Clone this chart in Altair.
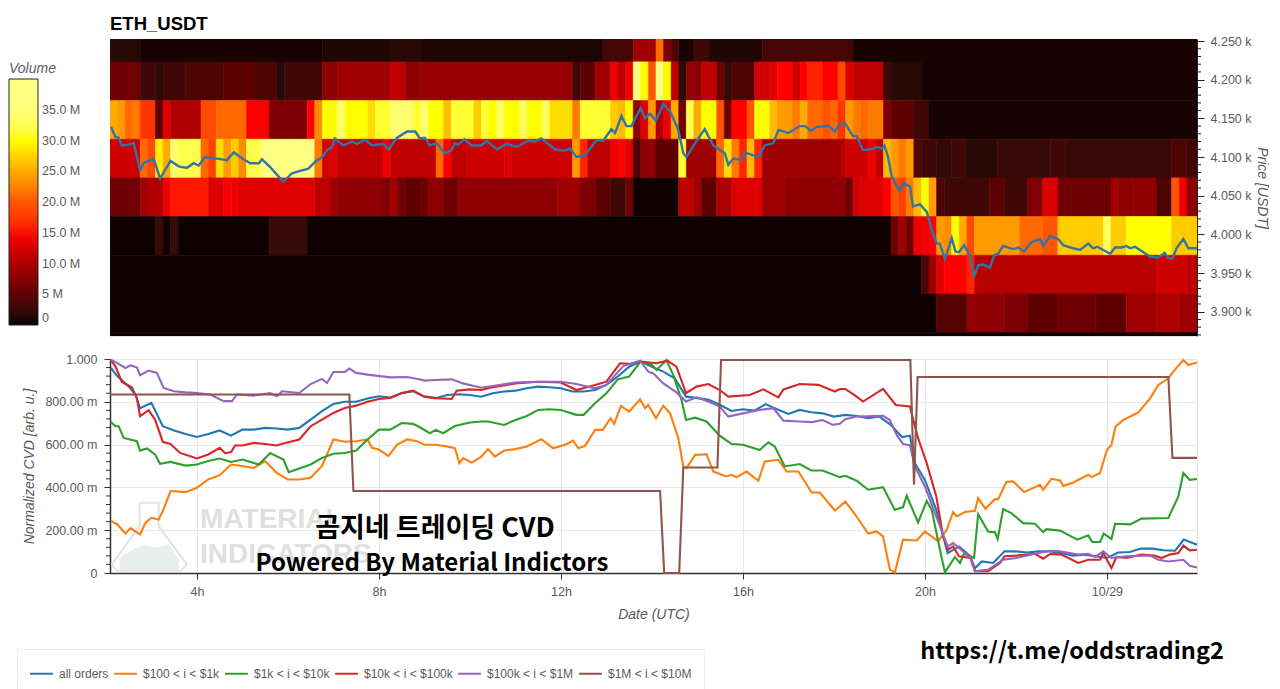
import altair as alt
import pandas as pd

FONT = "Liberation Sans"
GREY = "#5a5a5a"
X_DOMAIN = [2.09, 25.98]
PRICE_DOMAIN = [3868.6, 4252.6]
COLS = 143
COL_HOURS = 1 / 6

# Heat-map rows: (price low, price high, [(first column, volume in millions), ...])
ROW0 = [(0, 1.5), (4, .5), (28, 1), (37, 1.5), (41, .9), (65, 3.5), (69, 9), (72, 21), (73, 7), (74, 4), (75, .6), (77, 3), (79, 1), (86, 3.5), (98, .5)]
ROW1 = [(0, 6), (4, 3), (6, 2), (7, 3), (10, 4), (15, 5), (19, 4), (22, 1.5), (23, 3), (28, 8), (30, 9), (37, 11), (39, 8), (41, 8.5), (61, 3), (62, 5), (64, 9), (66, 14), (67, 11), (68, 14), (69, 36), (70, 30), (71, 20), (72, 40), (73, 30), (74, 11), (75, 2), (76, 8), (78, 11), (80, 6), (81, 2), (82, 4), (85, 12), (87, 13), (88, 15), (90, 12), (91, 15), (92, 16), (94, 15), (96, 19), (97, 13), (98, 11), (102, 3), (103, 1.5), (107, .5)]
ROW2 = [(0, 25), (1, 24), (2, 21), (3, 22), (4, 17), (6, 5), (7, 13), (8, 10), (12, 19), (14, 21), (18, 15), (21, 7), (26, 15), (27, 23), (28, 30), (30, 34), (31, 30), (34, 28), (35, 31), (37, 34), (40, 31), (41, 34), (42, 30), (44, 26), (45, 31), (48, 27), (49, 31), (50, 30), (51, 33), (52, 30), (54, 33), (55, 30), (57, 33), (58, 28), (61, 22), (62, 31), (66, 27), (67, 26), (68, 30), (69, 8), (70, 13), (71, 24), (72, 10), (73, 14), (74, 25), (75, 6), (76, 32), (77, 25), (78, 30), (80, 20), (81, 6), (82, 15), (84, 20), (85, 30), (87, 26), (88, 24), (90, 22), (91, 25), (92, 21), (94, 20), (95, 21), (96, 17), (97, 24), (98, 22), (99, 21), (100, 22), (102, 7), (103, 5), (106, 3), (108, .5)]
ROW3 = [(0, 12), (4, 21), (5, 19), (6, 29), (7, 25), (8, 34), (9, 32), (12, 21), (13, 18), (14, 28), (15, 24), (16, 27), (17, 23), (18, 32), (20, 39.5), (22, 37), (24, 36), (27, 22), (28, 12), (29, 13), (30, 11), (36, 14), (37, 11), (43, 21), (44, 15), (45, 11), (47, 12), (52, 13), (53, 12), (61, 24), (62, 16), (63, 11), (66, 14), (67, 15), (68, 13), (69, 4), (70, 8), (72, 5), (75, 31), (76, 9), (80, 21), (81, 28), (82, 22), (83, 16), (84, 26), (85, 16), (86, 9), (96, 10), (97, 12), (100, 14), (101, 11), (102, 26), (103, 24), (104, 22), (105, 24), (106, 4), (107, 3), (109, 2), (111, 3), (113, 1.5), (117, 2.5), (124, 3), (126, 2.5), (140, 4), (142, 3)]
ROW4 = [(0, 6), (4, 9), (5, 10), (7, 14), (8, 15.5), (13, 13), (15, 15), (16, 14), (17, 13), (27, 11), (29, 9), (30, 8), (36, 7), (37, 9), (38, 6), (39, 5), (41, 6), (42, 8), (44, 6), (46, 8), (59, 9), (62, 7), (64, 5), (66, 3), (68, 6), (69, .2), (75, 11), (77, 9), (78, 5), (80, 10), (82, 13), (86, 9), (89, 8), (97, 6), (98, 12), (99, 13), (102, 15), (103, 20), (104, 18), (105, 22), (106, 26), (107, 30), (108, 24), (109, 4), (110, 3), (116, 5), (118, 3), (121, 7), (123, 13), (125, 6), (132, 9), (133, 8), (135, 8), (138, 4), (140, 20), (141, 14), (142, 8)]
ROW5 = [(0, .2), (6, 2.5), (7, .2), (8, 2.5), (9, .2), (21, 2.5), (26, .2), (103, 6), (104, 9), (105, 6), (106, 14), (108, 15), (109, 24), (110, 23), (111, 30), (112, 25), (113, 19), (114, 24), (120, 21), (123, 20), (125, 27), (131, 33), (132, 27), (134, 30), (140, 27)]
ROW6 = [(0, .2), (107, 4), (108, 9), (109, 13), (110, 15), (113, 16), (114, 11), (115, 10.5), (138, 12), (142, 11)]
ROW7 = [(0, .2), (109, 4.5), (113, 8), (118, 7), (121, 5), (125, 6), (130, 5), (134, 9), (138, 10), (141, 9)]
ROW8 = [(0, .2)]
ROWS = [(4223, 4273, ROW0), (4173, 4223, ROW1), (4123, 4173, ROW2), (4073, 4123, ROW3), (4023, 4073, ROW4),
        (3973, 4023, ROW5), (3923, 3973, ROW6), (3873, 3923, ROW7), (3823, 3873, ROW8)]

PRICE = [(2.11, 4139), (2.21, 4126), (2.28, 4125), (2.35, 4115), (2.5, 4116), (2.61, 4118), (2.75, 4083), (2.83, 4092), (3.05, 4098), (3.19, 4072), (3.42, 4095), (3.6, 4088), (3.78, 4086), (3.93, 4092), (4.04, 4089), (4.18, 4100), (4.44, 4098), (4.66, 4096), (4.81, 4106), (4.95, 4100), (5.17, 4092), (5.36, 4092), (5.43, 4097), (5.61, 4087), (5.9, 4068), (6.09, 4079), (6.27, 4082), (6.45, 4085), (6.6, 4094), (6.75, 4100), (6.86, 4109), (6.97, 4113), (7.03, 4124), (7.22, 4115), (7.41, 4120), (7.52, 4117), (7.7, 4122), (7.85, 4115), (8.1, 4117), (8.21, 4110), (8.4, 4125), (8.62, 4133), (8.8, 4133), (8.9, 4124), (9.01, 4125), (9.12, 4115), (9.27, 4118), (9.45, 4105), (9.6, 4109), (9.67, 4118), (9.74, 4116), (9.88, 4123), (10.04, 4115), (10.25, 4115), (10.37, 4121), (10.59, 4110), (10.81, 4117), (11.03, 4113), (11.28, 4121), (11.43, 4120), (11.57, 4124), (11.87, 4110), (12.05, 4108), (12.2, 4111), (12.34, 4100), (12.53, 4102), (12.78, 4122), (12.93, 4121), (13.11, 4136), (13.19, 4131), (13.33, 4153), (13.44, 4140), (13.55, 4140), (13.75, 4163), (13.85, 4150), (13.96, 4156), (14.09, 4147), (14.25, 4169), (14.4, 4159), (14.58, 4135), (14.69, 4105), (14.76, 4100), (14.95, 4118), (15.16, 4136), (15.35, 4115), (15.6, 4105), (15.68, 4090), (15.79, 4098), (15.97, 4096), (16.04, 4106), (16.34, 4100), (16.48, 4115), (16.67, 4118), (16.78, 4135), (17.0, 4131), (17.25, 4140), (17.36, 4140), (17.51, 4134), (17.62, 4139), (17.88, 4140), (18.02, 4133), (18.13, 4143), (18.24, 4144), (18.42, 4127), (18.5, 4127), (18.64, 4109), (18.83, 4110), (18.94, 4113), (19.05, 4111), (19.11, 4115), (19.19, 4100), (19.27, 4075), (19.44, 4056), (19.52, 4066), (19.67, 4062), (19.74, 4036), (19.89, 4039), (20.04, 4029), (20.15, 4006), (20.26, 3988), (20.33, 3988), (20.44, 3968), (20.59, 3995), (20.67, 3978), (20.75, 3977), (20.86, 3986), (21.0, 3971), (21.08, 3946), (21.17, 3960), (21.28, 3961), (21.43, 3957), (21.52, 3973), (21.61, 3975), (21.72, 3985), (21.94, 3981), (22.05, 3983), (22.18, 3978), (22.34, 3990), (22.53, 3994), (22.6, 3985), (22.75, 3998), (22.93, 3994), (23.04, 3986), (23.26, 3982), (23.41, 3980), (23.59, 3988), (23.7, 3982), (23.79, 3984), (24.07, 3975), (24.18, 3983), (24.32, 3983), (24.43, 3985), (24.51, 3982), (24.62, 3984), (24.95, 3971), (25.13, 3970), (25.27, 3976), (25.35, 3969), (25.44, 3969), (25.53, 3982), (25.68, 3994), (25.79, 3982), (25.98, 3982)]

ALL_ORDERS = [(2.11, .958), (2.25, .92), (2.5, .872), (2.65, .834), (2.75, .77), (3.0, .795), (3.25, .686), (3.5, .666), (3.75, .65), (4, .636), (4.25, .65), (4.5, .666), (4.75, .642), (5, .67), (5.25, .67), (5.5, .678), (5.75, .675), (6, .67), (6.25, .678), (6.5, .717), (6.75, .756), (7, .79), (7.25, .8), (7.5, .8), (7.75, .815), (8, .826), (8.25, .82), (8.5, .84), (8.75, .85), (9, .824), (9.25, .817), (9.5, .832), (9.75, .835), (10, .832), (10.25, .824), (10.5, .84), (10.75, .848), (11, .852), (11.25, .863), (11.5, .871), (11.75, .868), (12, .863), (12.25, .848), (12.5, .848), (12.75, .855), (13, .879), (13.25, .918), (13.5, .964), (13.75, .988), (14, .964), (14.25, .941), (14.5, .91), (14.75, .824), (15, .817), (15.25, .809), (15.5, .785), (15.75, .757), (16, .765), (16.25, .759), (16.5, .789), (16.75, .765), (17, .743), (17.25, .762), (17.5, .751), (17.75, .746), (18, .731), (18.25, .739), (18.5, .734), (18.75, .723), (19, .731), (19.25, .692), (19.5, .635), (19.67, .642), (19.78, .513), (20, .435), (20.25, .295), (20.5, .093), (20.75, .124), (21, .078), (21.1, .022), (21.25, .054), (21.5, .047), (21.75, .101), (22, .101), (22.25, .096), (22.5, .101), (22.75, .101), (23, .093), (23.25, .081), (23.5, .086), (23.75, .078), (24, .07), (24.25, .096), (24.5, .098), (24.75, .114), (25, .114), (25.25, .106), (25.5, .104), (25.69, .156), (25.98, .132)]

ORANGE = [(2.11, .243), (2.25, .227), (2.43, .185), (2.54, .21), (2.75, .18), (2.87, .235), (3, .258), (3.16, .25), (3.25, .289), (3.42, .383), (3.75, .378), (4, .398), (4.25, .437), (4.5, .457), (4.75, .507), (5, .5), (5.25, .491), (5.5, .523), (5.75, .468), (6, .437), (6.25, .437), (6.5, .445), (6.75, .5), (7, .624), (7.25, .613), (7.5, .616), (7.75, .624), (7.85, .585), (8, .577), (8.21, .546), (8.4, .6), (8.62, .624), (8.84, .616), (9, .599), (9.25, .599), (9.5, .591), (9.67, .583), (9.77, .513), (9.85, .537), (10.04, .516), (10.25, .544), (10.4, .579), (10.55, .544), (10.75, .572), (11, .579), (11.25, .591), (11.57, .625), (11.83, .583), (12.12, .602), (12.27, .619), (12.38, .583), (12.53, .594), (12.75, .669), (12.92, .669), (13.09, .723), (13.17, .697), (13.32, .781), (13.5, .754), (13.74, .812), (13.85, .77), (13.92, .785), (14.09, .723), (14.25, .781), (14.4, .746), (14.58, .63), (14.69, .498), (14.76, .49), (14.95, .552), (15.2, .555), (15.35, .474), (15.64, .451), (15.75, .459), (15.86, .448), (16.08, .474), (16.34, .431), (16.48, .521), (16.78, .529), (16.96, .474), (17.22, .474), (17.51, .376), (17.69, .376), (18.02, .292), (18.13, .311), (18.25, .334), (18.5, .264), (18.75, .184), (18.94, .194), (19.08, .171), (19.23, .016), (19.34, .003), (19.52, .156), (19.82, .152), (20, .194), (20.29, .148), (20.48, .202), (20.62, .285), (20.7, .264), (20.88, .285), (21.1, .291), (21.17, .35), (21.33, .3), (21.54, .345), (21.61, .345), (21.79, .425), (21.94, .428), (22.18, .378), (22.53, .412), (22.6, .389), (22.78, .44), (22.97, .432), (23.04, .407), (23.26, .423), (23.59, .459), (23.66, .448), (23.85, .467), (24, .575), (24.1, .599), (24.19, .684), (24.36, .715), (24.69, .75), (24.95, .816), (25.13, .879), (25.35, .91), (25.49, .949), (25.68, .995), (25.79, .972), (25.98, .984)]

GREEN = [(2.11, .706), (2.21, .686), (2.28, .686), (2.39, .631), (2.68, .616), (2.75, .572), (2.9, .582), (3.08, .554), (3.19, .51), (3.42, .519), (3.75, .502), (4, .507), (4.25, .523), (4.5, .535), (4.75, .519), (5, .53), (5.36, .507), (5.61, .561), (5.9, .53), (6.02, .471), (6.25, .488), (6.5, .507), (6.75, .538), (7, .557), (7.25, .561), (7.5, .572), (7.75, .624), (8, .67), (8.25, .67), (8.5, .701), (8.75, .697), (8.9, .681), (9.12, .653), (9.25, .669), (9.41, .653), (9.67, .687), (10, .703), (10.25, .708), (10.4, .708), (10.75, .692), (11, .715), (11.25, .734), (11.5, .762), (11.75, .765), (12, .762), (12.34, .739), (12.5, .739), (12.75, .793), (13, .84), (13.25, .905), (13.5, .918), (13.75, .988), (14, .972), (14.1, .949), (14.32, .995), (14.47, .925), (14.65, .809), (14.75, .715), (14.95, .726), (15.2, .708), (15.49, .642), (15.75, .603), (16, .599), (16.37, .575), (16.56, .611), (16.7, .591), (16.92, .498), (17.25, .509), (17.5, .479), (17.75, .479), (18.13, .448), (18.25, .454), (18.5, .431), (18.75, .389), (19.08, .401), (19.34, .295), (19.52, .308), (19.6, .361), (19.85, .236), (20.04, .337), (20.15, .295), (20.33, .109), (20.44, .003), (20.66, .075), (20.77, .047), (20.86, .09), (21.08, .07), (21.17, .275), (21.39, .194), (21.54, .19), (21.6, .159), (21.72, .299), (21.9, .28), (22.16, .233), (22.42, .23), (22.6, .191), (22.67, .205), (22.97, .198), (23.35, .156), (23.59, .176), (23.68, .145), (23.85, .145), (23.93, .184), (24.1, .159), (24.18, .23), (24.51, .227), (24.76, .254), (25.35, .257), (25.57, .358), (25.68, .467), (25.82, .435), (25.98, .439)]

RED = [(2.11, .994), (2.21, .966), (2.35, .893), (2.57, .868), (2.68, .818), (2.75, .733), (2.94, .761), (3.08, .717), (3.25, .613), (3.42, .603), (3.63, .561), (4, .535), (4.25, .554), (4.5, .585), (4.62, .56), (4.75, .565), (4.84, .596), (5, .596), (5.25, .608), (5.5, .603), (5.75, .596), (5.9, .605), (6.25, .624), (6.5, .686), (6.75, .717), (7, .748), (7.25, .771), (7.5, .782), (7.75, .8), (8, .813), (8.25, .818), (8.5, .841), (8.75, .852), (8.91, .834), (9, .824), (9.25, .817), (9.6, .813), (9.71, .852), (10, .858), (10.25, .855), (10.5, .868), (11, .886), (11.5, .894), (12, .89), (12.34, .855), (12.75, .879), (13, .894), (13.3, .98), (13.5, .977), (13.75, .988), (14.1, .98), (14.34, .992), (14.54, .964), (14.75, .84), (14.98, .871), (15.24, .883), (15.49, .855), (15.68, .824), (16.15, .832), (16.45, .858), (16.78, .821), (16.89, .858), (17.25, .883), (17.66, .879), (18.02, .848), (18.13, .86), (18.25, .86), (18.5, .824), (18.64, .801), (19.08, .86), (19.36, .785), (19.67, .778), (19.85, .63), (20.04, .513), (20.25, .358), (20.4, .171), (20.51, .109), (20.62, .124), (20.75, .078), (21, .07), (21.1, .008), (21.39, .008), (21.65, .047), (21.75, .078), (22.01, .081), (22.42, .09), (22.6, .067), (22.75, .089), (23, .086), (23.37, .047), (23.59, .062), (23.85, .062), (23.92, .093), (24.1, .023), (24.21, .075), (24.43, .07), (24.76, .086), (25.05, .082), (25.2, .07), (25.38, .086), (25.57, .093), (25.68, .128), (25.82, .106), (25.98, .109)]

PURPLE = [(2.11, .997), (2.25, .981), (2.43, .958), (2.54, .97), (2.68, .961), (2.75, .924), (2.94, .946), (3.12, .935), (3.27, .865), (3.49, .849), (3.75, .844), (4, .841), (4.29, .834), (4.59, .803), (4.77, .803), (4.88, .834), (5.25, .829), (5.61, .841), (5.76, .826), (5.87, .849), (6.25, .841), (6.5, .883), (6.75, .907), (6.86, .888), (7, .939), (7.25, .939), (7.35, .955), (7.5, .935), (7.75, .927), (8.25, .914), (8.62, .916), (8.91, .904), (9, .899), (9.25, .902), (9.6, .905), (9.85, .886), (10.25, .866), (10.5, .874), (11, .89), (11.5, .894), (12, .894), (12.34, .883), (12.75, .863), (13, .879), (13.37, .967), (13.74, .992), (13.92, .941), (14.03, .933), (14.25, .886), (14.54, .844), (14.75, .801), (14.98, .821), (15.24, .801), (15.49, .778), (15.68, .731), (16, .746), (16.37, .762), (16.67, .77), (16.89, .712), (17.25, .708), (17.51, .705), (17.75, .715), (17.98, .692), (18.13, .697), (18.25, .719), (18.5, .731), (19.08, .734), (19.23, .715), (19.38, .645), (19.52, .603), (19.67, .597), (19.78, .498), (20, .404), (20.25, .264), (20.5, .124), (20.62, .14), (20.84, .101), (21, .07), (21.1, .008), (21.39, .016), (21.72, .062), (22.01, .07), (22.42, .09), (22.75, .104), (22.97, .101), (23.37, .086), (23.59, .09), (23.74, .075), (23.92, .101), (24.1, .07), (24.43, .078), (24.95, .082), (25.13, .062), (25.35, .054), (25.68, .062), (25.82, .034), (25.98, .026)]

BROWN = [(2.09, .834), (7.35, .834), (7.44, .383), (14.18, .383), (14.27, 0), (14.6, 0), (14.69, .493), (15.44, .493), (15.52, .995), (19.68, .995), (19.76, .412), (19.84, .916), (25.35, .916), (25.44, .538), (25.98, .538)]

SERIES = [("all orders", ALL_ORDERS), ("$100 < i < $1k", ORANGE), ("$1k < i < $10k", GREEN),
          ("$10k < i < $100k", RED), ("$100k < i < $1M", PURPLE), ("$1M < i < $10M", BROWN)]
LINE_COLORS = ["#1f77b4", "#ff7f0e", "#2ca02c", "#d62728", "#9467bd", "#8c564b"]
HEAT_COLORS = ["#0a0000", "#5f0000", "#af0000", "#ff0000", "#ff5500", "#ffaa00", "#ffff00", "#ffff80", "#ffffff"]

PRICE_TICKS = [3900, 3950, 4000, 4050, 4100, 4150, 4200, 4250]
PRICE_MINOR = [p for p in range(3870, 4251, 10) if p % 50]
CVD_TICKS = [0, .2, .4, .6, .8, 1]
CVD_MINOR = [i * .04 for i in range(26) if i % 5]
HOUR_TICKS = [4, 8, 12, 16, 20, 24]
VOLUME_TICKS = [0, 5, 10, 15, 20, 25, 30, 35]

FLASK = [(2.74, .328), (3.16, .328), (3.16, .219), (3.78, .04), (3.64, .01), (2.24, .01), (2.13, .04), (2.74, .219), (2.74, .328)]
WATER_H = [2.3, 2.6, 2.85, 3.1, 3.35, 3.6]
WATER_V = [.07, .11, .13, .12, .13, .06]

# Tables
cells = []
for lo, hi, runs in ROWS:
    for i, (start, vol) in enumerate(runs):
        end = runs[i + 1][0] if i + 1 < len(runs) else COLS
        x1 = X_DOMAIN[1] if end == COLS else X_DOMAIN[0] + end * COL_HOURS
        cells.append(dict(x0=X_DOMAIN[0] + start * COL_HOURS, x1=x1, lo=lo, hi=hi, vol=vol))
cells = pd.DataFrame(cells)
price = pd.DataFrame(PRICE, columns=["h", "p"])
lines = pd.DataFrame([dict(h=h, v=v, series=n, i=i) for n, s in SERIES for i, (h, v) in enumerate(s)])
names = [n for n, _ in SERIES]

X = alt.Scale(domain=X_DOMAIN, nice=False, zero=False)
P = alt.Scale(domain=PRICE_DOMAIN, nice=False, zero=False)
Y = alt.Scale(domain=[0, 1], nice=False)
HEAT = alt.Scale(domain=[0, 40], range=HEAT_COLORS)

TICK_FS = 12.5
volume_labels = "datum.value == 0 ? '0' : datum.value == 5 ? '5 M' : format(datum.value, '.1f') + ' M'"
heat = alt.Chart(cells).mark_rect(clip=True, strokeWidth=0.6).encode(
    x=alt.X("x0:Q", scale=X, axis=None),
    x2="x1:Q",
    y=alt.Y("lo:Q", scale=P, axis=alt.Axis(
        orient="right", values=PRICE_TICKS, title="Price [USDT]", grid=False,
        labelExpr="format(datum.value / 1000, '.3f') + ' k'", tickSize=7, domainColor="#222", tickColor="#222",
        labelColor=GREY, labelFont=FONT, labelFontSize=TICK_FS, labelPadding=6,
        titleFont=FONT, titleFontSize=14, titleFontStyle="italic", titleFontWeight="normal",
        titleColor=GREY, titlePadding=3)),
    y2="hi:Q",
    stroke=alt.Stroke("vol:Q", scale=HEAT, legend=None),
    color=alt.Color("vol:Q", scale=HEAT,
                    legend=alt.Legend(orient="none", legendX=-101, legendY=23, title="Volume",
                                      gradientLength=246, gradientThickness=29, values=VOLUME_TICKS,
                                      labelExpr=volume_labels, labelColor=GREY, labelFont=FONT, labelFontSize=TICK_FS,
                                      labelAlign="center", labelOffset=4, gradientStrokeColor="#222", gradientStrokeWidth=1,
                                      titleFont=FONT, titleFontSize=14, titleFontStyle="italic",
                                      titleFontWeight="normal", titleColor=GREY, titlePadding=3)),
)
price_line = alt.Chart(price).mark_line(color="#3274a6", strokeWidth=2.4).encode(
    x=alt.X("h:Q", scale=X), y=alt.Y("p:Q", scale=P))
price_minor = alt.Chart(pd.DataFrame({"p": PRICE_MINOR})).mark_rule(color="#222").encode(
    x=alt.value(1087), x2=alt.value(1091), y=alt.Y("p:Q", scale=P))
top = alt.layer(heat, price_line, price_minor).properties(
    width=1087, height=297,
    title=alt.TitleParams("ETH_USDT", anchor="start", frame="group", font=FONT, fontSize=18.5, fontWeight="bold", color="#000", offset=2))

cvd_labels = "datum.value == 1 ? '1.000' : datum.value == 0 ? '0' : format(datum.value * 1000, '.2f') + ' m'"
hour_labels = "datum.value == 24 ? '10/29' : datum.value + 'h'"
water = alt.Chart(pd.DataFrame({"h": WATER_H, "v": WATER_V})).mark_area(color="#e6efee", interpolate="monotone").encode(
    x=alt.X("h:Q", scale=X, axis=alt.Axis(
        values=HOUR_TICKS, labelExpr=hour_labels, title="Date (UTC)", gridColor="#e8e8e8", tickSize=6,
        domainColor="#333", domainWidth=1.5, tickColor="#333", labelColor=GREY, labelFont=FONT, labelFontSize=TICK_FS,
        labelPadding=6, titleFont=FONT, titleFontSize=14, titleFontStyle="italic", titleFontWeight="normal",
        titleColor=GREY, titlePadding=10)),
    y=alt.Y("v:Q", scale=Y, axis=alt.Axis(
        values=CVD_TICKS, labelExpr=cvd_labels, title="Normalized CVD [arb. u.]", gridColor="#e8e8e8", tickSize=6,
        domainColor="#333", domainWidth=1.5, tickColor="#333", labelColor=GREY, labelFont=FONT, labelFontSize=TICK_FS,
        labelPadding=7, titleFont=FONT, titleFontSize=14, titleFontStyle="italic", titleFontWeight="normal",
        titleColor=GREY, titlePadding=8)),
    y2=alt.datum(0.015))
flask = alt.Chart(pd.DataFrame(FLASK, columns=["h", "v"]).reset_index()).mark_line(color="#e2e2e2", strokeWidth=2).encode(
    x=alt.X("h:Q", scale=X), y=alt.Y("v:Q", scale=Y), order="index:Q")
wm = alt.Chart(pd.DataFrame({"t": ["MATERIAL", "INDICATORS"], "h": [4.07, 4.07], "v": [.248, .084]})).mark_text(
    font=FONT, fontWeight="bold", fontSize=28, color="#e0e0e0", align="left", baseline="middle").encode(
    x=alt.X("h:Q", scale=X), y=alt.Y("v:Q", scale=Y), text="t:N")
minor = alt.Chart(pd.DataFrame({"v": CVD_MINOR})).mark_rule(color="#333").encode(
    x=alt.value(-4), x2=alt.value(0), y=alt.Y("v:Q", scale=Y))
curves = alt.Chart(lines).mark_line(strokeWidth=2.1).encode(
    x=alt.X("h:Q", scale=X), y=alt.Y("v:Q", scale=Y), order="i:Q",
    color=alt.Color("series:N", sort=names, scale=alt.Scale(domain=names, range=LINE_COLORS),
                    legend=alt.Legend(orient="none", legendX=-93, legendY=290, title=None, direction="horizontal",
                                      columns=6, symbolType="stroke", symbolSize=520, symbolStrokeWidth=2,
                                      labelFont=FONT, labelFontSize=12, labelColor=GREY, labelOffset=5, columnPadding=1,
                                      fillColor="#ffffff", strokeColor="#eeeeee", padding=12)))
caption = alt.Chart(pd.DataFrame({"t": ["곰지네 트레이딩 CVD", "Powered By Material Indictors", "https://t.me/oddstrading2"],
                                  "px": [325, 322, 962], "py": [170, 205, 293], "fs": [27, 24, 23.5]})).mark_text(
    font="Noto Sans CJK KR", fontWeight=700, color="#000", align="center", baseline="middle").encode(
    x=alt.X("px:Q", scale=None), y=alt.Y("py:Q", scale=None), text="t:N", size=alt.Size("fs:Q", scale=None))
bottom = alt.layer(water, flask, wm, minor, curves, caption).properties(width=1087, height=214)

chart = alt.vconcat(top, bottom, spacing=15).resolve_scale(color="independent").properties(
    padding={"left": 0, "top": 6, "right": 0, "bottom": 0}
).configure_view(stroke="#e5e5e5")

chart.save("out.html", embed_options={"renderer": "svg", "actions": False})
